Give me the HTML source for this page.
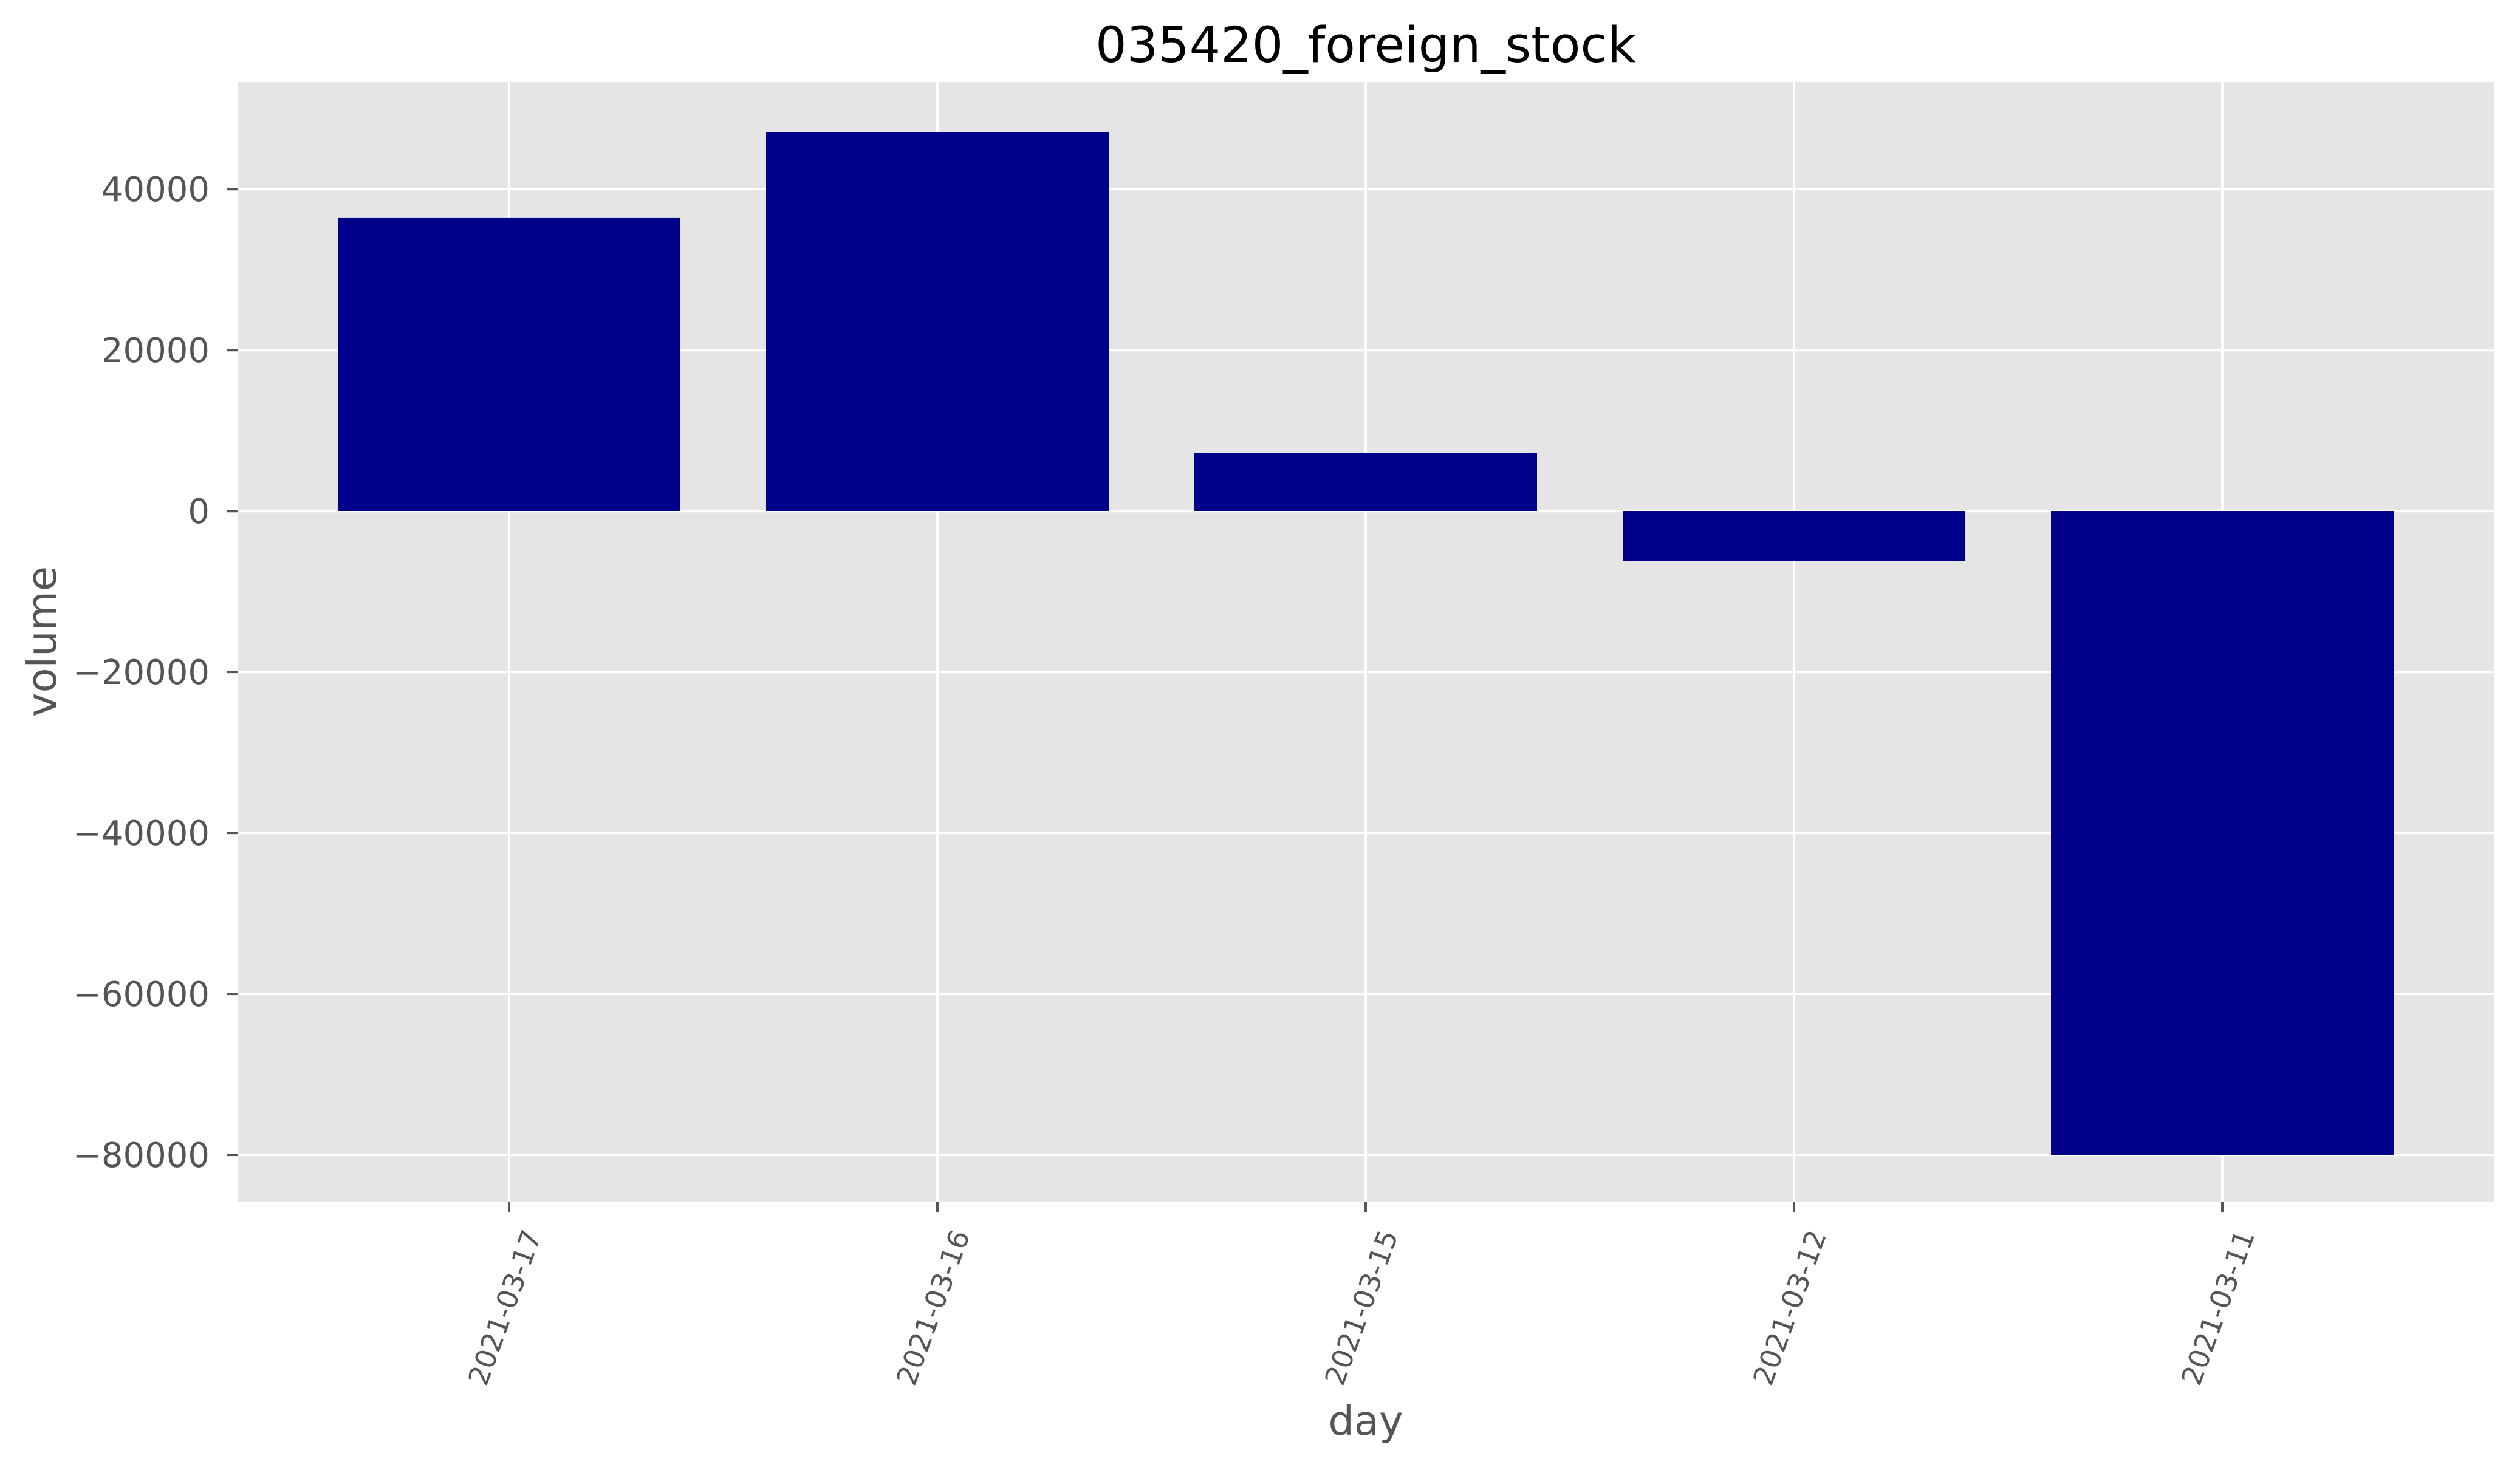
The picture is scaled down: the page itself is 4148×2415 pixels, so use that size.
<!DOCTYPE html>
<html><head><meta charset="utf-8"><style>html,body{margin:0;padding:0;background:#fff}svg{display:block}</style></head>
<body>
<svg id="chart" width="4148" height="2415" xmlns="http://www.w3.org/2000/svg" font-family="'DejaVu Sans','Liberation Sans',sans-serif">
<rect width="4148" height="2415" fill="#fff"/>
<text x="2248" y="102" text-anchor="middle" font-size="81" fill="#000">035420_foreign_stock</text>
<rect x="391" y="135" width="3714" height="1843" fill="#e5e5e5"/>
<g id="grid"></g><g id="bars"></g><g id="ticks"></g>
<text x="2248" y="2362" text-anchor="middle" font-size="67" fill="#555">day</text>
<text transform="translate(92,1056) rotate(-90)" text-anchor="middle" font-size="67" fill="#555">volume</text>
</svg>
<script>
const categories = ["2021-03-17","2021-03-16","2021-03-15","2021-03-12","2021-03-11"];
const volumes = [36400, 47100, 7200, -6200, -80000];
const yTicks = [40000, 20000, 0, -20000, -40000, -60000, -80000];
const yTickLabels = ["40000","20000","0","\u221220000","\u221240000","\u221260000","\u221280000"];

const NS = "http://www.w3.org/2000/svg";
const plot = {left:391, right:4105, top:135, bottom:1978};
const yMin = -85800, yMax = 53300;
const xMin = -0.634, xMax = 4.634;
function yScale(v){ return plot.bottom - (v - yMin) / (yMax - yMin) * (plot.bottom - plot.top); }
function xScale(i){ return plot.left + (i - xMin) / (xMax - xMin) * (plot.right - plot.left); }
function mk(tag, attrs, parent){ const e = document.createElementNS(NS, tag); for (const k in attrs) e.setAttribute(k, attrs[k]); parent.appendChild(e); return e; }

const grid = document.getElementById('grid'), bars = document.getElementById('bars'), ticks = document.getElementById('ticks');
yTicks.forEach((v, i) => {
  const y = yScale(v);
  const g = mk('line', {x1:plot.left, x2:plot.right, y1:y, y2:y, stroke:'#fff', 'stroke-width':4}, grid);
  
  
  const t = mk('line', {x1:plot.left-17, x2:plot.left, y1:y, y2:y, stroke:'#555', 'stroke-width':4}, ticks);
  
  
  const l = mk('text', {x:345, y:y+20, 'text-anchor':'end', 'font-size':56, fill:'#555'}, ticks);
  l.textContent = yTickLabels[i];
  
  
});
categories.forEach((c, i) => {
  const x = xScale(i);
  const g = mk('line', {x1:x, x2:x, y1:plot.top, y2:plot.bottom, stroke:'#fff', 'stroke-width':4}, grid);
  
  
  const w = 0.8 * (xScale(1) - xScale(0));
  const y0 = yScale(0), y1 = yScale(volumes[i]);
  const b = mk('rect', {x:x-w/2, y:Math.min(y0,y1), width:w, height:Math.abs(y1-y0), fill:'#00008b'}, bars);
  
  
  const t = mk('line', {x1:x, x2:x, y1:plot.bottom, y2:plot.bottom+17, stroke:'#555', 'stroke-width':4}, ticks);
  
  
  const l = mk('text', {transform:'translate(' + (x+8) + ',2158) rotate(-70)', 'text-anchor':'middle', 'font-size':46, fill:'#555'}, ticks);
  l.textContent = c;
  
  
});
</script>
</body></html>
